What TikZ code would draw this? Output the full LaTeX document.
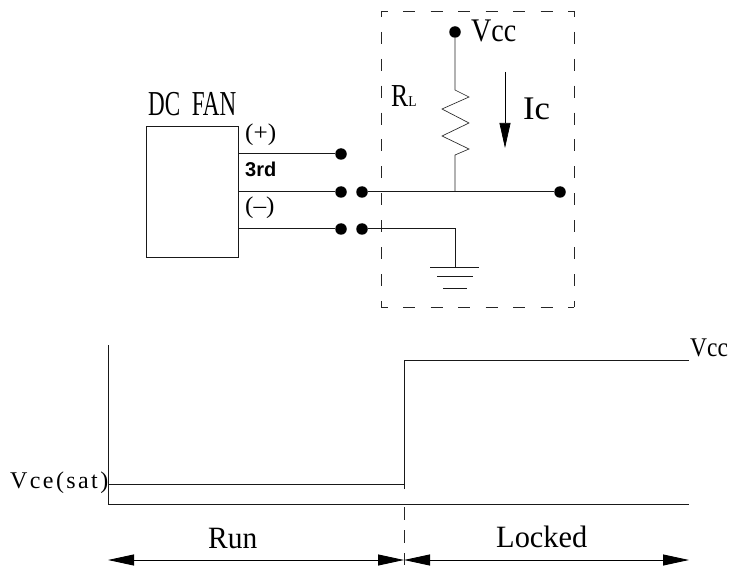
\documentclass[tikz,border=0pt]{standalone}
\usepackage{fontspec}
\setmainfont{Liberation Serif}
\newfontfamily\labelsans{Liberation Sans}
\usetikzlibrary{arrows.meta}
\newcommand{\squeezed}[3]{\scalebox{#1}[1]{\fontsize{#2}{#2}\selectfont #3}}
\tikzset{
  x=1pt,y=-1pt,
  wire/.style={line width=1pt,black!90},
  thin wire/.style={line width=0.65pt,black!85},
  dot/.style={circle,fill=black,inner sep=0pt,minimum size=11.5pt},
  junction/.style={inner sep=0pt,minimum size=0pt},
  txt/.style={inner sep=0pt,anchor=base west},
  guardh/.style={line width=0.8pt,black!85,dash pattern=on 12pt off 15.5pt,dash phase=5.5pt},
  guardv/.style={line width=0.8pt,black!85,dash pattern=on 12pt off 14.9pt,dash phase=6pt},
  bighead/.style={-{Triangle[length=25pt,width=11pt]}},
  dimhead/.style={{Triangle[length=26pt,width=11pt]}-{Triangle[length=26pt,width=11pt]}}
}
\begin{document}
\begin{tikzpicture}
\useasboundingbox (0,0) rectangle (729,567);
\fill[white] (0,0) rectangle (729,567);

% fan
\node[draw,line width=0.9pt,black!90,inner sep=0pt,minimum width=92pt,minimum height=131pt] (fan) at (192,191.5) {};
\node[txt] (fanlabel) at (148,116) {\squeezed{0.66}{35}{DC\hspace{0.25em} FAN}};
\node[txt] (plus) at (245,141) {\squeezed{1.05}{24}{(+)}};
\node[txt] (third) at (245,177) {\labelsans\bfseries\squeezed{1}{20}{3rd}};
\node[txt] (minus) at (245,214) {\squeezed{1.05}{24}{(--)}};

% terminals
\coordinate (f1) at (238,154);
\coordinate (f2) at (238,192);
\coordinate (f3) at (238,229);
\node[dot] (t1) at (341,154) {};
\node[dot] (t2) at (341,192) {};
\node[dot] (t3) at (341,229) {};
\node[dot] (u2) at (362,192) {};
\node[dot] (u3) at (362,229) {};
\draw[wire] (f1) -- (t1);
\draw[wire] (f2) -- (t2);
\draw[wire] (f3) -- (t3);

% dashed box
\coordinate (bx1) at (381,11);
\coordinate (bx2) at (574,11);
\coordinate (bx3) at (574,307);
\coordinate (bx4) at (381,307);
\draw[guardh] (bx1) -- (bx2);
\draw[guardh] (bx4) -- (bx3);
\draw[guardv] (bx1) -- (bx4);
\draw[guardv] (bx2) -- (bx3);

% load
\node[dot] (vcc) at (455,32) {};
\node[txt] (vcclabel) at (471,42) {\squeezed{0.85}{33}{Vcc}};
\node[txt] (rl) at (391,107) {\fontsize{32}{32}\selectfont\scalebox{0.8}[1]{R}\fontsize{15}{15}\selectfont\scalebox{0.9}[1]{L}};
\node[txt] (ic) at (523,120) {\squeezed{1.05}{33}{Ic}};
\coordinate (ra) at (455,90);
\coordinate (rb) at (455,155);
\node[junction] (j) at (455,192) {};
\node[dot] (out) at (560,192) {};
\draw[thin wire] (vcc) -- (ra) -- (469,97) -- (442,109) -- (469,123) -- (442,136) -- (469,149) -- (rb) -- (j);
\draw[wire] (u2) -- (j) -- (out);
\coordinate (gndc) at (455,229);
\node[junction] (g0) at (455,267) {};
\draw[wire] (u3) -- (gndc) -- (g0);
\draw[wire] (430,267) -- (479,267);
\draw[wire] (437,276) -- (473,276);
\draw[wire] (443,288) -- (467,288);
\coordinate (ia) at (505,72);
\coordinate (ib) at (505,148);
\draw[line width=0.7pt,black,bighead] (ia) -- (ib);

% timing chart
\coordinate (axt) at (108,345);
\coordinate (axo) at (108,504);
\coordinate (axe) at (689,504);
\draw[wire] (axt) -- (axo) -- (axe);
\coordinate (s0) at (108,484);
\coordinate (s1) at (404,484);
\coordinate (s2) at (404,360);
\coordinate (s3) at (689,360);
\coordinate (sb) at (404,489);
\draw[wire] (s0) -- (s1);
\draw[wire] (sb) -- (s2) -- (s3);
\coordinate (d0) at (404,507);
\coordinate (d1) at (404,565);
\draw[line width=0.8pt,black!85,dash pattern=on 13pt off 10pt] (d0) -- (d1);
\node[txt] (vcc2) at (690,356) {\squeezed{0.87}{27}{Vcc}};
\node[txt] (vce) at (10,488) {\fontsize{24}{24}\selectfont\addfontfeature{LetterSpace=10}Vce(sat)};
\node[txt] (run) at (208,548) {\squeezed{0.95}{31}{Run}};
\node[txt] (locked) at (496,547) {\squeezed{0.98}{31}{Locked}};
\coordinate (a0) at (108,560);
\coordinate (a1) at (404,560);
\coordinate (a2) at (689,560);
\draw[line width=0.9pt,black,dimhead] (a0) -- (a1);
\draw[line width=0.9pt,black,dimhead] (a1) -- (a2);
\end{tikzpicture}
\end{document}
